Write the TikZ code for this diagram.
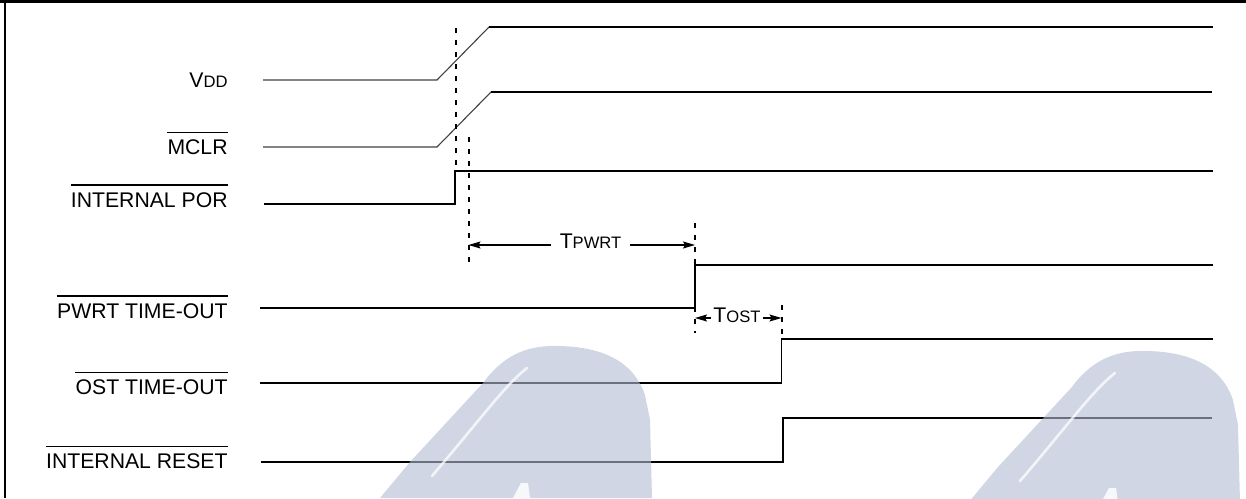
\documentclass[tikz,border=0pt]{standalone}
\usepackage{fontspec}
\setmainfont{Liberation Sans}
\usetikzlibrary{arrows.meta}
\definecolor{wm}{RGB}{179,187,211}
\newcommand\lblsize{\fontsize{10.6}{12}\selectfont}
\newcommand\smc[1]{{\fontsize{8.3}{10}\selectfont #1}}
\begin{document}
\begin{tikzpicture}[x=0.5pt,y=-0.5pt,
  lbl/.style={anchor=east,inner sep=0pt,text height=7.6pt,text depth=0pt,font=\lblsize},
  tlbl/.style={inner ysep=0pt,text height=7.6pt,text depth=0pt,font=\lblsize},
  sig/.style={line width=0.8pt},
  lowsig/.style={line width=0.55pt,black!75},
  frameline/.style={line width=1.1pt},
  guide/.style={line width=1pt,dash pattern=on 2.6pt off 3.4pt},
  bar/.style={line width=0.65pt},
  dimarrow/.style={line width=0.6pt,-{Stealth[length=6pt,width=3.5pt,inset=1pt]}},
  wmark/.style={fill=wm,fill opacity=0.6,draw=none},
  hilite/.style={white,line width=1.3pt,opacity=0.75,line cap=round}]
\useasboundingbox (0,0) rectangle (1246,498);
% frame
\draw[frameline] (0,1.5) -- (1246,1.5);
\draw[frameline] (5,0) -- (5,498);

% labels
\node[lbl] (lvdd) at (228,80) {V\smc{DD}};
\node[lbl] (lmclr) at (228,147) {MCLR};
\node[lbl] (lpor) at (228,199.5) {INTERNAL POR};
\node[lbl] (lpwrt) at (228,310.5) {PWRT TIME-OUT};
\node[lbl] (lost) at (228,387) {OST TIME-OUT};
\node[lbl] (lrst) at (228,461) {INTERNAL RESET};
\foreach \n in {lmclr,lpor,lpwrt,lost,lrst}
  \draw[bar] ([yshift=3.3pt]\n.north west) -- ([yshift=3.3pt]\n.north east);

% waveforms
\draw[lowsig] (263,80) -- (437,80) -- (489,27);
\draw[sig] (489,27) -- (1213,27);
\draw[lowsig] (263,147) -- (437,147) -- (491,92);
\draw[sig] (491,92) -- (1212,92);
\draw[sig] (264,204) -- (455,204) -- (455,171) -- (1213,171);
\draw[sig] (260,308) -- (695,308) -- (695,265) -- (1213,265);
\draw[sig] (260,383) -- (781.5,383) -- (781.5,339) -- (1213,339);
\draw[sig] (261,462) -- (783,462) -- (783,418) -- (1212,418);

% guides
\coordinate (d1t) at (455.5,28);
\coordinate (d1b) at (455.5,170);
\coordinate (d2t) at (468.5,137);
\coordinate (d2b) at (468.5,267);
\coordinate (d3t) at (695,223);
\coordinate (d3b) at (695,333);
\coordinate (d4t) at (781.5,305);
\coordinate (d4b) at (781.5,340);
\draw[guide] (d1t) -- (d1b);
\draw[guide] (d2t) -- (d2b);
\draw[guide] (d3t) -- (d3b);
\draw[guide] (d4t) -- (d4b);

% timing dimensions
\coordinate (pa) at (468.5,245);
\coordinate (pb) at (695,245);
\coordinate (oa) at (695,318);
\coordinate (ob) at (781.5,318);
\node[tlbl,inner xsep=4pt] (tp) at (590.5,241) {T\smc{PWRT}};
\draw[dimarrow] (pa -| tp.west) -- (pa);
\draw[dimarrow] (pb -| tp.east) -- (pb);
\node[tlbl,inner xsep=1pt] (to) at (737,315) {T\smc{OST}};
\draw[dimarrow] (oa -| to.west) -- (oa);
\draw[dimarrow] (ob -| to.east) -- (ob);

% watermark (two arches)
\foreach \dx/\dy in {0/0, 588/5} {
  \begin{scope}[shift={(\dx,\dy)}]
    \path[wmark] (380,498) -- (410,462) -- (483,383)
      .. controls (500,360) and (520,347) .. (550,346)
      .. controls (600,345) and (633,360) .. (645,395)
      -- (650,420) -- (652,498) -- cycle;
    \draw[hilite] (527,368) .. controls (505,385) and (480,420) .. (432,476);
    \fill[white,opacity=0.85] (513,498) -- (521,483) -- (528,483) -- (530,498) -- cycle;
  \end{scope}
}
\end{tikzpicture}
\end{document}
